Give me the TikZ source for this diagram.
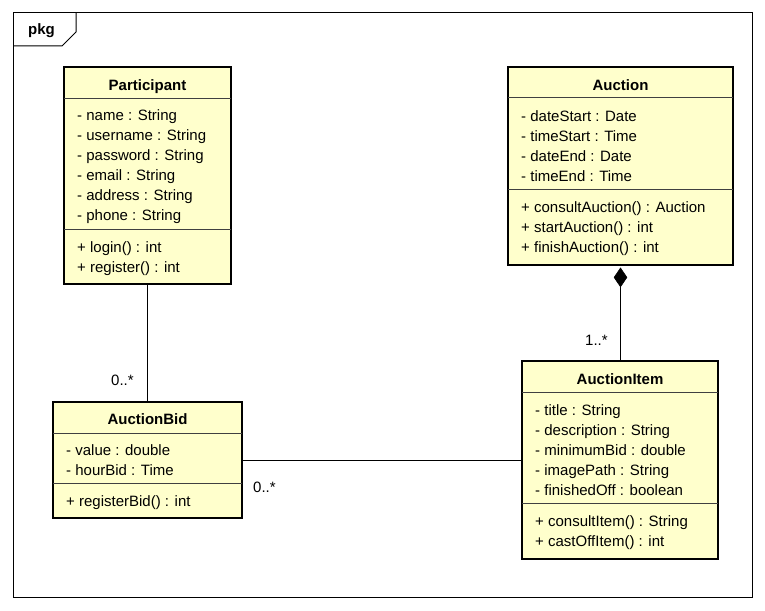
\documentclass[tikz,border=0pt]{standalone}
\usepackage{fontspec}
\setmainfont{Liberation Sans}
\usetikzlibrary{shapes.geometric}
\definecolor{classfill}{HTML}{FFFFCC}
\definecolor{sepcol}{HTML}{404040}
\begin{document}
\begin{tikzpicture}[x=1pt,y=-1pt,
  box/.style={draw, line width=2.6pt, fill=classfill, inner sep=0pt, rectangle},
  sepline/.style={line width=0.9pt, draw=sepcol},
  ctitle/.style={font=\bfseries\fontsize{15}{18}\selectfont, inner sep=0pt, anchor=base},
  attr/.style={font=\fontsize{15}{18}\selectfont, inner sep=0pt, anchor=base west},
  mult/.style={font=\fontsize{15}{18}\selectfont, inner sep=0pt, anchor=base west},
  conn/.style={line width=0.9pt}]
\useasboundingbox (0,0) rectangle (765,610);
% package frame
\draw[line width=1pt] (13,13) rectangle (752,597);
\draw[line width=1pt] (13,46) -- (62,46) -- (76,32) -- (76,13);
\node[font=\bfseries\fontsize{15}{18}\selectfont, inner sep=0pt, anchor=base west] (pkg) at (28,35) {pkg};

% Participant
\node[box, minimum width=167pt, minimum height=217pt] (participant) at (147.5,175.5) {};
\draw[sepline] (64,98) -- (231,98);
\draw[sepline] (64,229) -- (231,229);
\node[ctitle] (participantT) at (147.5,90) {Participant};
\node[attr] (p1) at (77,120) {- name : String};
\node[attr] (p2) at (77,140) {- username : String};
\node[attr] (p3) at (77,160) {- password : String};
\node[attr] (p4) at (77,180) {- email : String};
\node[attr] (p5) at (77,200) {- address : String};
\node[attr] (p6) at (77,220) {- phone : String};
\node[attr] (p7) at (77,252) {+ login() : int};
\node[attr] (p8) at (77,272) {+ register() : int};

% Auction
\node[box, minimum width=225pt, minimum height=198pt] (auction) at (620.5,166) {};
\draw[sepline] (508,97) -- (733,97);
\draw[sepline] (508,189) -- (733,189);
\node[ctitle] (auctionT) at (620.5,90) {Auction};
\node[attr] (a1) at (521,121) {- dateStart : Date};
\node[attr] (a2) at (521,141) {- timeStart : Time};
\node[attr] (a3) at (521,161) {- dateEnd : Date};
\node[attr] (a4) at (521,181) {- timeEnd : Time};
\node[attr] (a5) at (521,212) {+ consultAuction() : Auction};
\node[attr] (a6) at (521,232) {+ startAuction() : int};
\node[attr] (a7) at (521,252) {+ finishAuction() : int};

% AuctionItem
\node[box, minimum width=196pt, minimum height=198pt] (item) at (620,460) {};
\draw[sepline] (522,392) -- (718,392);
\draw[sepline] (522,503) -- (718,503);
\node[ctitle] (itemT) at (620,384) {AuctionItem};
\node[attr] (i1) at (535,415) {- title : String};
\node[attr] (i2) at (535,435) {- description : String};
\node[attr] (i3) at (535,455) {- minimumBid : double};
\node[attr] (i4) at (535,475) {- imagePath : String};
\node[attr] (i5) at (535,495) {- finishedOff : boolean};
\node[attr] (i6) at (535,526) {+ consultItem() : String};
\node[attr] (i7) at (535,546) {+ castOffItem() : int};

% AuctionBid
\node[box, minimum width=189pt, minimum height=116pt] (bid) at (147.5,460) {};
\draw[sepline] (53,433) -- (242,433);
\draw[sepline] (53,483) -- (242,483);
\node[ctitle] (bidT) at (147.5,424) {AuctionBid};
\node[attr] (b1) at (66,455) {- value : double};
\node[attr] (b2) at (66,475) {- hourBid : Time};
\node[attr] (b3) at (66,506) {+ registerBid() : int};

% connectors
\draw[conn] (participant.south) -- (bid.north);
\draw[conn] (bid.east) -- (item.west);
\node[diamond, draw, fill=black, line width=0.6pt, minimum width=13pt, minimum height=19pt, inner sep=0pt, anchor=north] (dia) at ([yshift=-1.3pt]auction.south) {};
\draw[conn] (dia.south) -- (item.north -| dia.south);

% multiplicities
\node[mult] (m1) at (111,385) {0..*};
\node[mult] (m2) at (585,345) {1..*};
\node[mult] (m3) at (253,492) {0..*};
\end{tikzpicture}
\end{document}
